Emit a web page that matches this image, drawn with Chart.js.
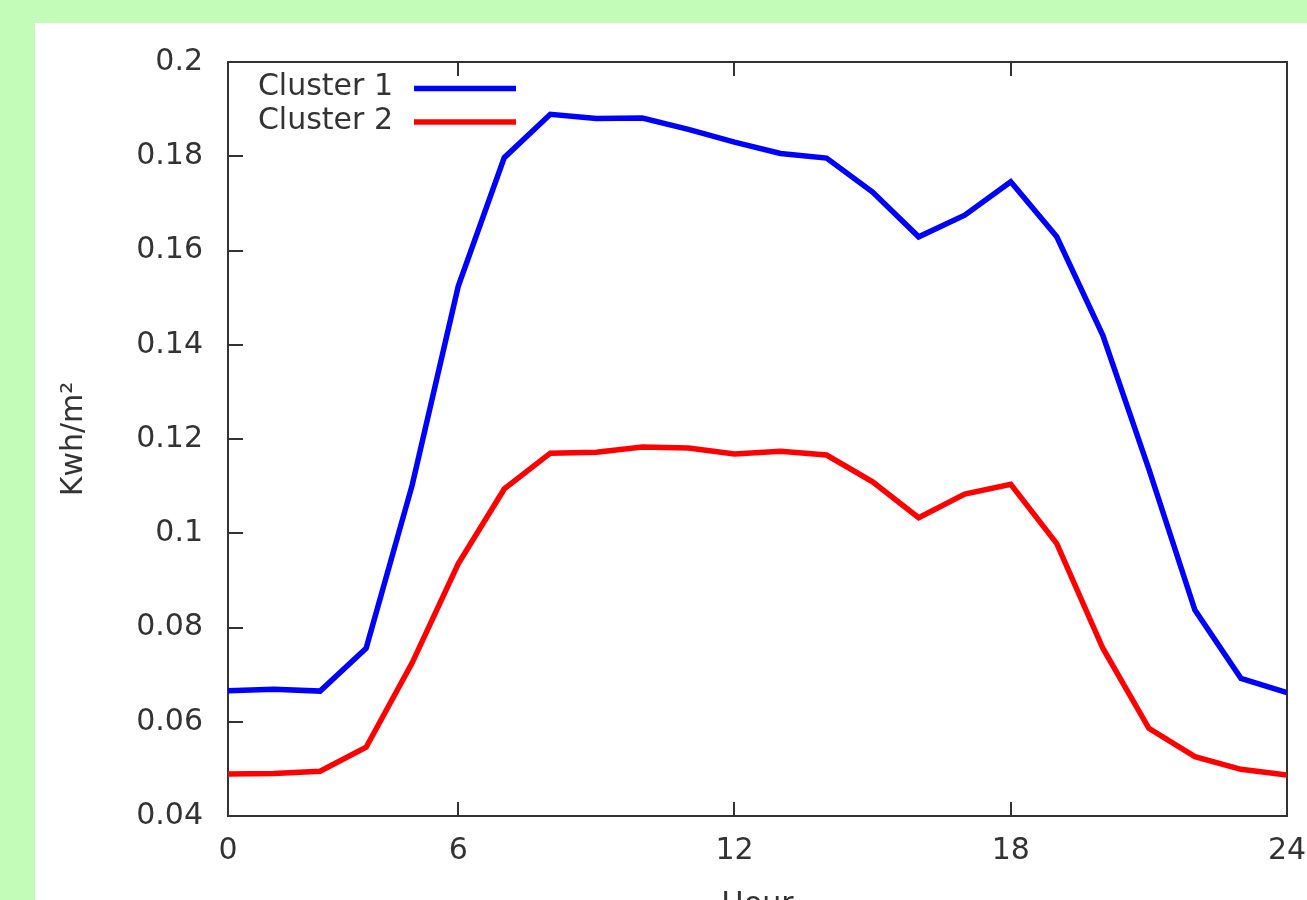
<!DOCTYPE html>
<html>
<head>
<meta charset="utf-8">
<script src="https://cdn.jsdelivr.net/npm/chart.js@4"></script>
<style>
  html, body { margin: 0; padding: 0; background: #c3fcb8; overflow: hidden; width: 1307px; height: 900px; }
  #panel { position: absolute; left: 35px; top: 23px; width: 1272px; height: 900px; background: #ffffff; }
</style>
</head>
<body>
<div id="panel"><canvas id="chart" width="1272" height="900"></canvas></div>
<script>
const hours = [1, 2, 3, 4, 5, 6, 7, 8, 9, 10, 11, 12,
  13, 14, 15, 16, 17, 18, 19, 20, 21, 22, 23, 24]

const cluster1 = [0.0666, 0.0669, 0.0665, 0.0756, 0.1102, 0.1524, 0.1797, 0.1889, 0.1880, 0.1881, 0.1857, 0.1830,
  0.1806, 0.1796, 0.1724, 0.1629, 0.1675, 0.1746, 0.1629, 0.1420, 0.1136, 0.0837, 0.0692, 0.0662]

const cluster2 = [0.0489, 0.0490, 0.0495, 0.0546, 0.0725, 0.0935, 0.1094, 0.1170, 0.1172, 0.1183, 0.1181, 0.1168,
  0.1174, 0.1166, 0.1109, 0.1033, 0.1083, 0.1104, 0.0978, 0.0756, 0.0586, 0.0526, 0.0499, 0.0487]

const seriesLabels = ["Cluster 1", "Cluster 2"]
const seriesColors = ["#0000ff", "#ff0000"]

// the first tick sits on hour 1 but is labelled "0"
const xTickValues = [1, 6, 12, 18, 24]
const xTickLabels = ["0", "6", "12", "18", "24"]

const FONT = "'DejaVu Sans', sans-serif"
const INK = "#333333"
const LINE_W = 5.5

function points(values) {
  return values.map((v, i) => ({ x: hours[i], y: v }))
}

// gnuplot style frame: box, inward ticks (left, bottom, top), key inside the plot
const gnuplotFrame = {
  id: "gnuplotFrame",
  beforeDatasetsDraw(chart) {
    const { ctx, chartArea: a, scales } = chart
    ctx.save()
    ctx.strokeStyle = INK
    ctx.lineWidth = 2
    ctx.strokeRect(a.left, a.top, a.right - a.left, a.bottom - a.top)
    ctx.beginPath()
    scales.y.ticks.forEach(t => {
      const y = Math.round(scales.y.getPixelForValue(t.value))
      ctx.moveTo(a.left, y)
      ctx.lineTo(a.left + 15, y)
    })
    scales.x.ticks.forEach(t => {
      const x = Math.round(scales.x.getPixelForValue(t.value))
      ctx.moveTo(x, a.bottom)
      ctx.lineTo(x, a.bottom - 14)
      ctx.moveTo(x, a.top)
      ctx.lineTo(x, a.top + 14)
    })
    ctx.stroke()
    ctx.restore()
  },
  afterDraw(chart) {
    const { ctx, chartArea: a } = chart
    ctx.save()
    ctx.font = "30px " + FONT
    ctx.textAlign = "right"
    ctx.textBaseline = "middle"
    chart.data.datasets.forEach((ds, i) => {
      const y = a.top + 26.5 + i * 33.5
      ctx.fillStyle = INK
      ctx.fillText(ds.label, a.left + 165, y - 1)
      ctx.strokeStyle = ds.borderColor
      ctx.lineWidth = LINE_W
      ctx.beginPath()
      ctx.moveTo(a.left + 186, y)
      ctx.lineTo(a.left + 288, y)
      ctx.stroke()
    })
    ctx.restore()
  }
}

const ctx = document.getElementById("chart").getContext("2d")
new Chart(ctx, {
  type: "line",
  data: {
    datasets: [
      {
        label: seriesLabels[0],
        data: points(cluster1),
        borderColor: seriesColors[0],
        borderWidth: LINE_W,
        borderJoinStyle: "miter",
        pointRadius: 0,
        tension: 0,
        fill: false,
      },
      {
        label: seriesLabels[1],
        data: points(cluster2),
        borderColor: seriesColors[1],
        borderWidth: LINE_W,
        borderJoinStyle: "miter",
        pointRadius: 0,
        tension: 0,
        fill: false,
      },
    ],
  },
  options: {
    responsive: false,
    animation: false,
    layout: {
      padding: { top: 39, right: 20, left: 0, bottom: 0 },
    },
    plugins: {
      legend: { display: false },
      tooltip: { enabled: false },
    },
    scales: {
      x: {
        type: "linear",
        min: 1,
        max: 24,
        grid: { display: false, drawTicks: false },
        border: { display: false },
        afterBuildTicks(scale) {
          scale.ticks = xTickValues.map(v => ({ value: v }))
        },
        ticks: {
          padding: 17,
          color: INK,
          font: { family: FONT, size: 30 },
          maxRotation: 0,
          autoSkip: false,
          callback: v => xTickLabels[xTickValues.indexOf(v)],
        },
        title: {
          display: true,
          text: "Hour",
          color: INK,
          font: { family: FONT, size: 30 },
          padding: { top: 0, bottom: 0 },
        },
        afterFit(scale) {
          scale.height = 107
          scale.paddingLeft = 0
          scale.paddingRight = 0
        },
      },
      y: {
        min: 0.04,
        max: 0.2,
        grid: { display: false, drawTicks: false },
        border: { display: false },
        ticks: {
          stepSize: 0.02,
          padding: 25,
          color: INK,
          font: { family: FONT, size: 30 },
          callback: v => String(Number(v.toFixed(4))),
        },
        title: {
          display: true,
          text: "Kwh/m²",
          color: INK,
          font: { family: FONT, size: 30 },
          padding: { top: 21, bottom: 0 },
        },
        afterFit(scale) {
          scale.width = 193
          scale.paddingTop = 0
          scale.paddingBottom = 0
        },
      },
    },
  },
  plugins: [gnuplotFrame],
})
</script>
</body>
</html>
